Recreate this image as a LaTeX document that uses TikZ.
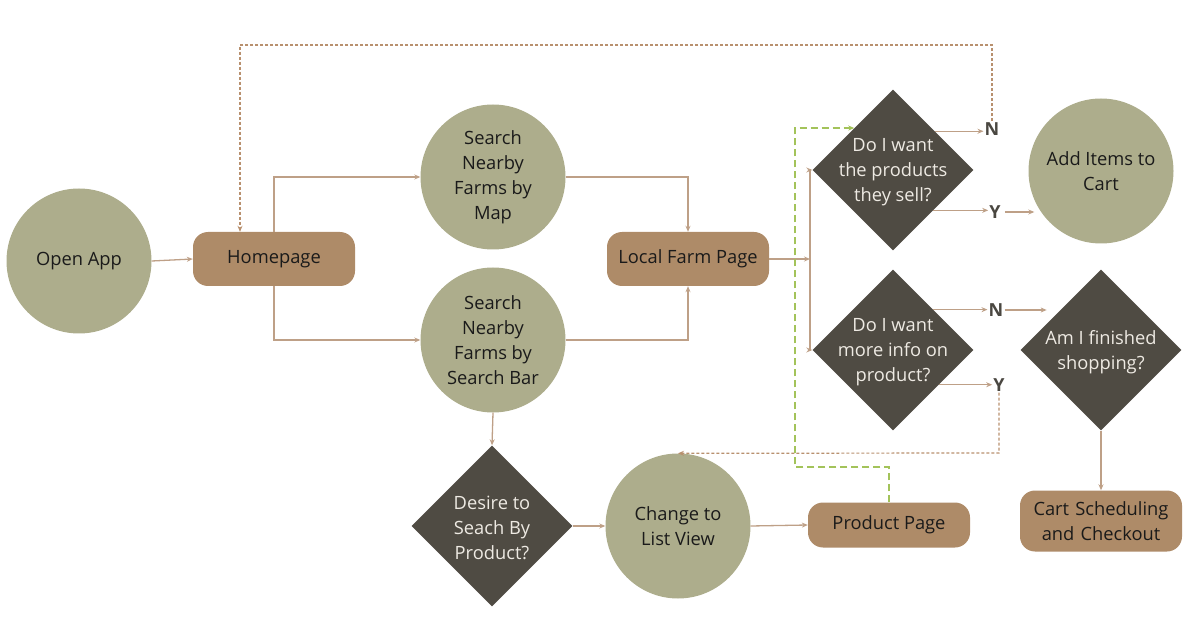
\documentclass[tikz,border=0pt]{standalone}
\usepackage{fontspec}
\setmainfont{Open Sans}
\usetikzlibrary{shapes.geometric,arrows.meta,calc}
\definecolor{sage}{HTML}{ADAD8C}
\definecolor{tanbox}{HTML}{AE8B68}
\definecolor{darkdia}{HTML}{4F4B43}
\definecolor{lineclr}{HTML}{BEA087}
\definecolor{dashclr}{HTML}{B8906E}
\definecolor{greenclr}{HTML}{A3C35A}
\definecolor{txtdark}{HTML}{1A1A1A}
\definecolor{txtlight}{HTML}{EEEAE3}
\definecolor{yncolor}{HTML}{4A4741}
\tikzset{
  x=1pt, y=-1pt,
  every node/.style={font=\fontsize{18.3}{25}\selectfont},
  circ/.style={circle, fill=sage, minimum size=145pt, inner sep=0pt, align=center, text=txtdark},
  rbox/.style={rectangle, rounded corners=15pt, fill=tanbox, minimum width=162pt, minimum height=54pt, inner sep=0pt, align=center, text=txtdark},
  dia/.style={diamond, aspect=1, fill=darkdia, minimum size=161pt, inner sep=0pt},
  dtext/.style={align=center, text=txtlight, inner sep=0pt, yshift=-2pt},
  yn/.style={font=\fontsize{18}{20}\selectfont\bfseries, text=yncolor, inner sep=1pt},
  conn/.style={draw=lineclr, line width=1.3pt, -{Stealth[length=6pt,width=5pt]}},
  backdash/.style={draw=dashclr, line width=1.2pt, dash pattern=on 3pt off 2pt, -{Stealth[length=6pt,width=5pt]}},
  greendash/.style={draw=greenclr, line width=1.5pt, dash pattern=on 7pt off 4pt, -{Stealth[length=6pt,width=5pt]}},
}
\begin{document}
\begin{tikzpicture}
\useasboundingbox (0,0) rectangle (1200,636);
% circles
\node[circ] (open) at (79,261) {Open App};
\node[circ] (map) at (493,177) {Search\\Nearby\\Farms by\\Map};
\node[circ] (bar) at (493,340) {Search\\Nearby\\Farms by\\Search Bar};
\node[circ] (ctl) at (678,526) {Change to\\List View};
\node[circ] (add) at (1101,171) {Add Items to\\Cart};
% boxes
\node[rbox] (home) at (274,259) {\raisebox{-2pt}{Homepage}};
\node[rbox] (lfp) at (688,259) {\raisebox{-2pt}{Local Farm Page}};
\node[rbox, minimum height=45pt] (prod) at (889,525) {\raisebox{-2pt}{Product Page}};
\node[rbox, minimum height=61pt, text width=160pt] (cart) at (1101,521) {Cart Scheduling\\and Checkout};
% diamonds
\node[dia, label={[dtext]center:Do I want\\the products\\they sell?}] (d1) at (893,170) {};
\node[dia, label={[dtext]center:Do I want\\more info on\\product?}] (d2) at (893,350) {};
\node[dia, label={[dtext]center:Am I finished\\shopping?}] (fin) at (1101,350) {};
\node[dia, label={[dtext]center:Desire to\\Seach By\\Product?}] (des) at (492,526) {};
% Y / N labels
\node[yn] (N1) at (992,129) {N};
\node[yn] (Y1) at (995,212) {Y};
\node[yn] (N2) at (996,310) {N};
\node[yn] (Y2) at (999,385) {Y};
% helper coordinates
\coordinate (br) at (810,259);
\coordinate (rtop) at (992,45);
\coordinate (ltop) at (240,45);
\coordinate (ybend) at (999,453);
\coordinate (gbend) at (795,467);
\coordinate (d1ur) at ($(d1.north)!0.52!(d1.east)$);
\coordinate (d1lr) at ($(d1.east)!0.5!(d1.south)$);
\coordinate (d1ul) at ($(d1.west)!0.52!(d1.north)$);
\coordinate (d2ur) at ($(d2.north)!0.5!(d2.east)$);
\coordinate (d2lr) at ($(d2.east)!0.43!(d2.south)$);
\coordinate (finul) at ($(fin.west)!0.5!(fin.north)$);
% connectors
\draw[conn] (open.east) -- (home.west);
\draw[conn] (home.north) |- (map.west);
\draw[conn] (home.south) |- (bar.west);
\draw[conn] (map.east) -| (lfp.north);
\draw[conn] (bar.east) -| (lfp.south);
\draw[conn] (lfp.east) -- (br);
\draw[conn] (br) |- (d1.west);
\draw[conn] (br) |- (d2.west);
\draw[conn] (d1ur) -- (N1.west |- d1ur);
\draw[conn] (d1lr) -- (Y1.west |- d1lr);
\draw[conn, shorten <=3pt, shorten >=-6pt] (Y1.east) -- (add.west |- Y1.east);
\draw[conn] (d2ur) -- (N2.west |- d2ur);
\draw[conn] (d2lr) -- (Y2.west |- d2lr);
\draw[conn, shorten >=14pt] (N2.east) -- (N2.east -| finul);
\draw[conn] (fin.south) -- (cart.north);
\draw[conn] (bar.south) -- (des.north);
\draw[conn] (des.east) -- (ctl.west);
\draw[conn] (ctl.east) -- (prod.west);
\draw[backdash] (N1.north) -- (rtop) -- (ltop) -- (ltop |- home.north);
\draw[backdash] (Y2.south) -- (ybend) -- (ctl.north);
\draw[greendash] (prod.north) |- (gbend) |- (d1ul);
\end{tikzpicture}
\end{document}
